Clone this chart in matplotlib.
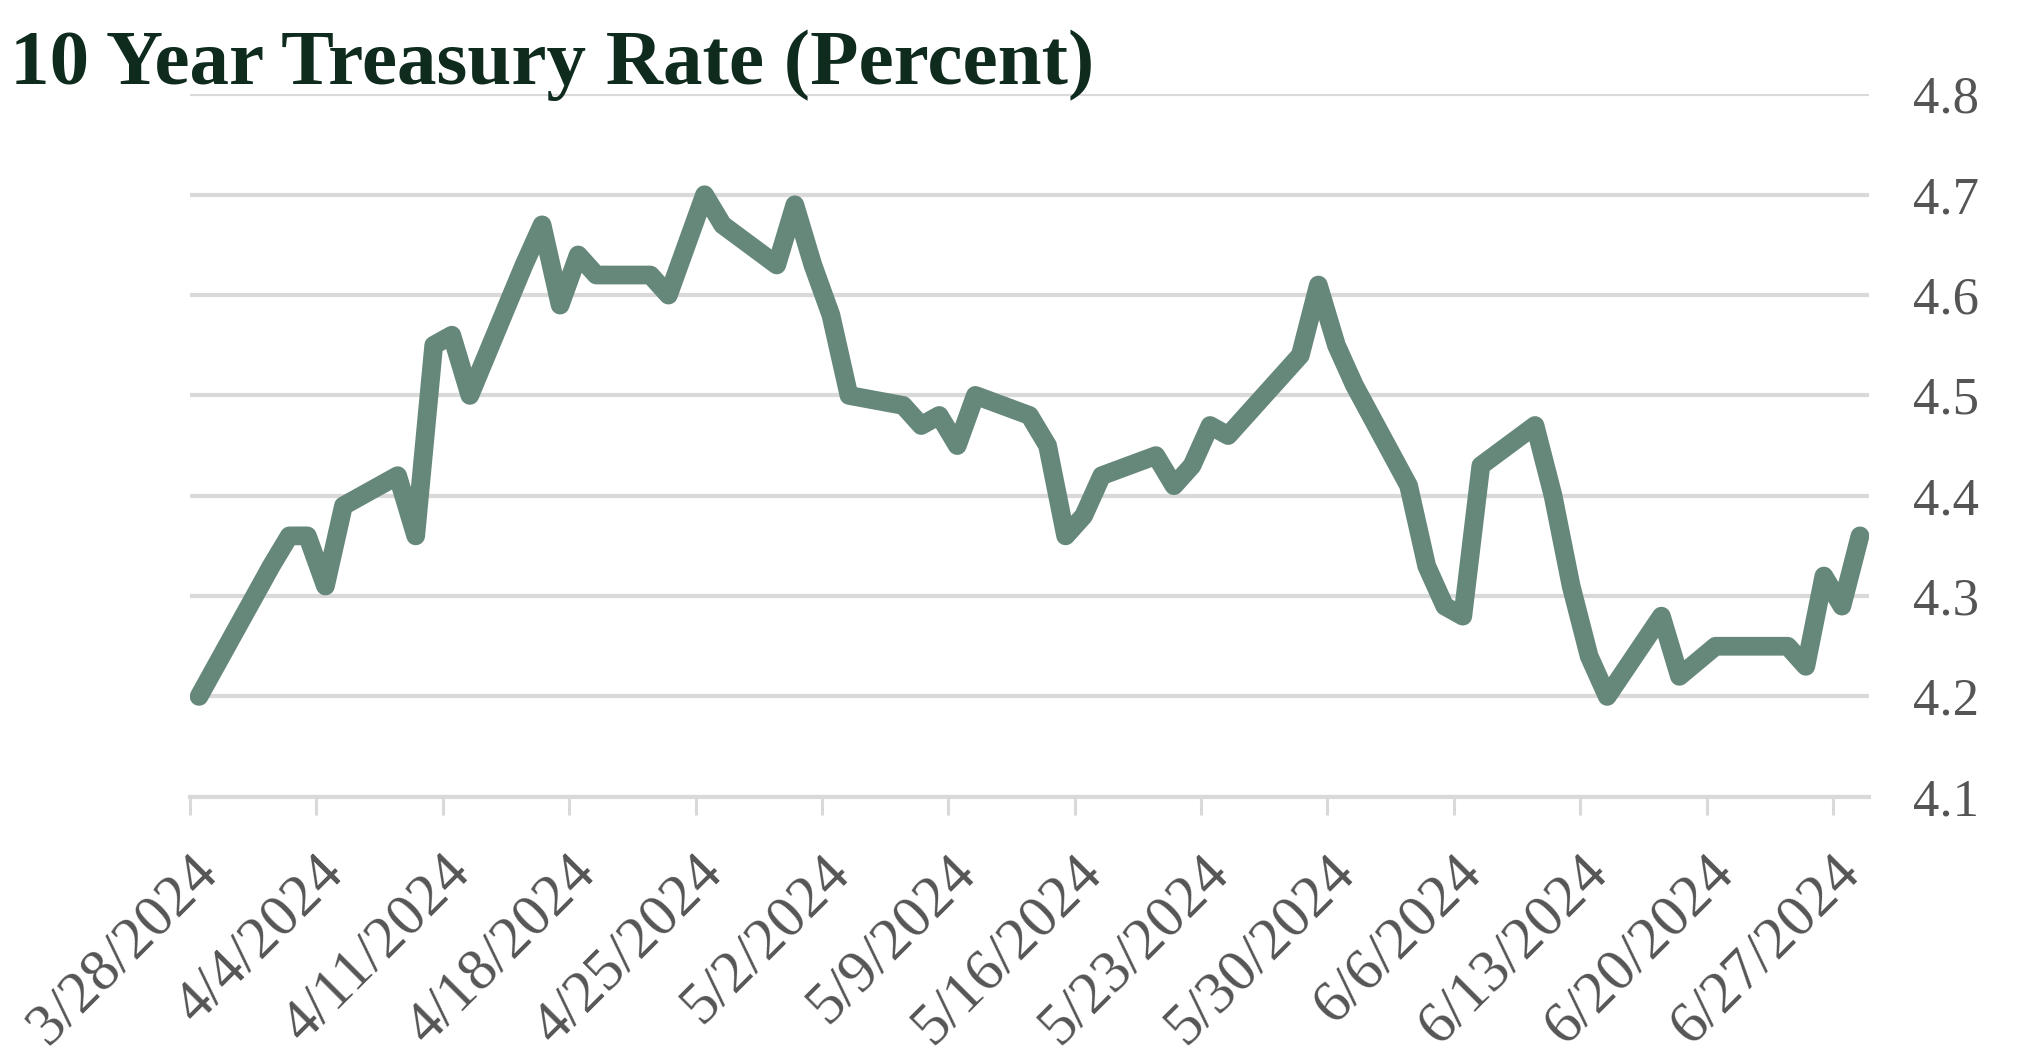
import matplotlib
matplotlib.use("Agg")
import pandas as pd
import matplotlib.pyplot as plt

# 10 year treasury, business days (holidays left out)
dates = [
    "2024-03-28", "2024-04-01", "2024-04-02", "2024-04-03", "2024-04-04", "2024-04-05",
    "2024-04-08", "2024-04-09", "2024-04-10", "2024-04-11", "2024-04-12",
    "2024-04-15", "2024-04-16", "2024-04-17", "2024-04-18", "2024-04-19",
    "2024-04-22", "2024-04-23", "2024-04-24", "2024-04-25", "2024-04-26",
    "2024-04-29", "2024-04-30", "2024-05-01", "2024-05-02", "2024-05-03",
    "2024-05-06", "2024-05-07", "2024-05-08", "2024-05-09", "2024-05-10",
    "2024-05-13", "2024-05-14", "2024-05-15", "2024-05-16", "2024-05-17",
    "2024-05-20", "2024-05-21", "2024-05-22", "2024-05-23", "2024-05-24",
    "2024-05-28", "2024-05-29", "2024-05-30", "2024-05-31",
    "2024-06-03", "2024-06-04", "2024-06-05", "2024-06-06", "2024-06-07",
    "2024-06-10", "2024-06-11", "2024-06-12", "2024-06-13", "2024-06-14",
    "2024-06-17", "2024-06-18", "2024-06-20", "2024-06-21",
    "2024-06-24", "2024-06-25", "2024-06-26", "2024-06-27", "2024-06-28",
]
rates = [
    4.20, 4.33, 4.36, 4.36, 4.31, 4.39,
    4.42, 4.36, 4.55, 4.56, 4.50,
    4.63, 4.67, 4.59, 4.64, 4.62,
    4.62, 4.60, 4.65, 4.70, 4.67,
    4.63, 4.69, 4.63, 4.58, 4.50,
    4.49, 4.47, 4.48, 4.45, 4.50,
    4.48, 4.45, 4.36, 4.38, 4.42,
    4.44, 4.41, 4.43, 4.47, 4.46,
    4.54, 4.61, 4.55, 4.51,
    4.41, 4.33, 4.29, 4.28, 4.43,
    4.47, 4.40, 4.31, 4.24, 4.20,
    4.28, 4.22, 4.25, 4.25,
    4.25, 4.23, 4.32, 4.29, 4.36,
]
tick_dates = pd.date_range("2024-03-28", "2024-06-27", freq="7D")
tick_labels = [f"{d.month}/{d.day}/{d.year}" for d in tick_dates]
y_ticks = [4.1, 4.2, 4.3, 4.4, 4.5, 4.6, 4.7, 4.8]

grid_col = "#d9d9d9"
label_col = "#555555"

fig = plt.figure(figsize=(20.28, 10.56), dpi=100, facecolor="white")
ax = fig.add_axes([0.0937, 0.2455, 0.8279, 0.6651])

# excel date axis puts each day's point in the middle of its slot
x = pd.to_datetime(dates) + pd.Timedelta(hours=12)
ax.plot(x, rates, color="#66887a", lw=13.5, solid_joinstyle="round",
        solid_capstyle="round", zorder=3)

ax.set_xlim(pd.Timestamp("2024-03-28"), pd.Timestamp("2024-06-29"))
ax.set_ylim(4.1, 4.8)

ax.set_yticks(y_ticks)
ax.set_yticklabels([f"{v:.1f}" for v in y_ticks], family="Liberation Serif",
                   fontsize=38, color=label_col)
ax.yaxis.tick_right()
ax.tick_params(axis="y", length=0, pad=32)
ax.grid(axis="y", color=grid_col, lw=3, zorder=0)

ax.set_xticks(tick_dates)
ax.set_xticklabels(tick_labels, rotation=45, ha="right", rotation_mode="anchor",
                   family="Liberation Serif", fontsize=43, color=label_col)
ax.tick_params(axis="x", length=13, width=2.2, color=grid_col, pad=22)

for side in ["top", "left", "right"]:
    ax.spines[side].set_visible(False)
ax.spines["bottom"].set_color(grid_col)
ax.spines["bottom"].set_linewidth(3)

fig.text(0.005, 0.92, "10 Year Treasury Rate (Percent)", family="Liberation Serif",
         fontweight="bold", fontsize=57, color="#0e2b1e", ha="left", va="baseline",
         zorder=5)

fig.savefig("out.png", dpi=100)
